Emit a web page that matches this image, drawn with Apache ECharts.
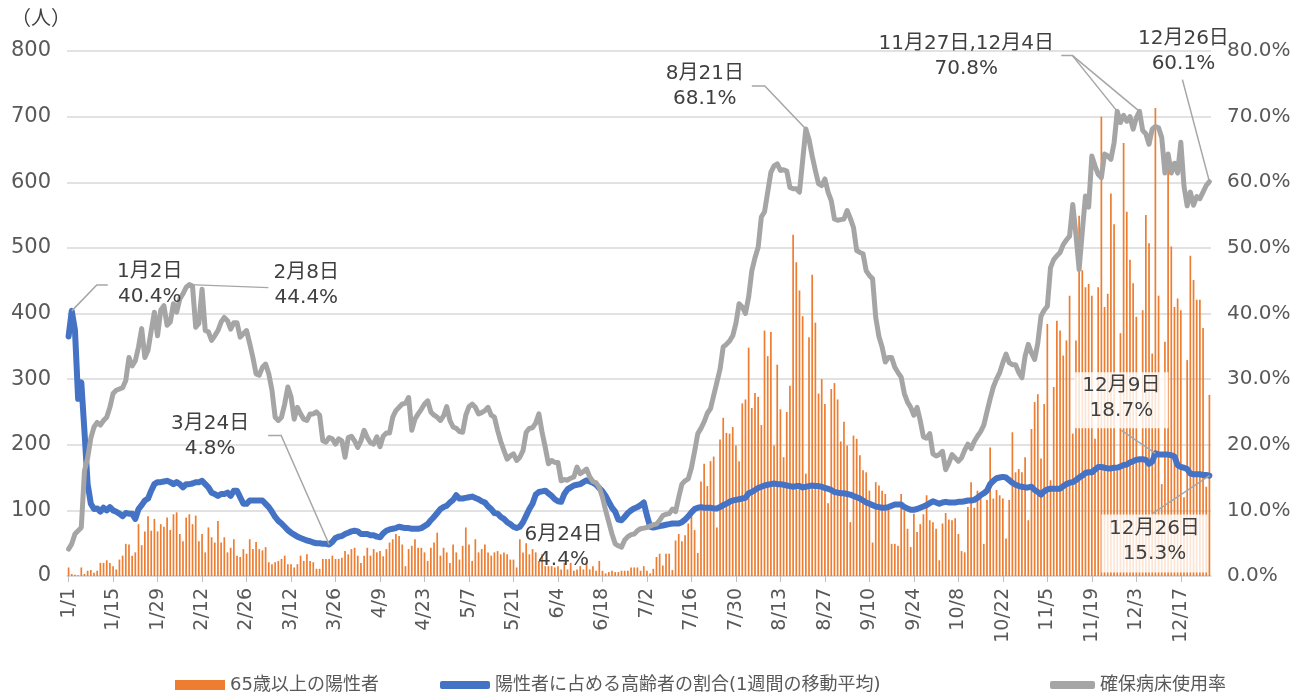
<!DOCTYPE html>
<html>
<head>
<meta charset="utf-8">
<title>65歳以上の陽性者と確保病床使用率</title>
<script src="https://cdn.jsdelivr.net/npm/echarts@6/dist/echarts.min.js"></script>
<style>
	html, body { margin: 0; padding: 0; background: #ffffff; }
	#main { width: 1308px; height: 695px; }
</style>
</head>
<body>
<div id="main"></div>
<script>
// 日付 (2022/1/1 〜 12/26)
var dates = [];
for (var dt = new Date(2022, 0, 1); dates.length < 360; dt.setDate(dt.getDate() + 1)) {
	dates.push((dt.getMonth() + 1) + '/' + dt.getDate());
}

var legendNames = ['65歳以上の陽性者', '陽性者に占める高齢者の割合(1週間の移動平均)', '確保病床使用率'];

// 65歳以上の陽性者 (人)
var aged65Cases = [
	13, 3, 2, 1, 13, 3, 8, 9, 5, 8,
	20, 20, 24, 20, 15, 10, 25, 31, 49, 48,
	31, 36, 79, 47, 68, 91, 69, 87, 68, 79,
	75, 89, 70, 94, 97, 64, 53, 89, 94, 79,
	92, 53, 64, 36, 74, 59, 51, 84, 51, 59,
	36, 43, 56, 31, 29, 41, 34, 56, 41, 52,
	41, 39, 44, 21, 18, 21, 23, 26, 31, 18,
	18, 13, 18, 31, 23, 33, 23, 21, 11, 11,
	26, 26, 26, 31, 26, 26, 28, 38, 33, 41,
	43, 31, 20, 31, 43, 31, 41, 36, 38, 30,
	41, 51, 56, 64, 61, 48, 15, 41, 46, 56,
	43, 43, 36, 23, 43, 51, 66, 31, 43, 36,
	20, 48, 36, 25, 46, 74, 48, 23, 56, 36,
	41, 48, 36, 31, 36, 38, 33, 36, 33, 25,
	25, 13, 56, 36, 50, 33, 41, 36, 23, 33,
	15, 15, 15, 13, 15, 10, 20, 10, 20, 8,
	10, 15, 10, 23, 10, 15, 8, 23, 8, 4,
	6, 8, 6, 6, 8, 8, 8, 13, 13, 13,
	8, 15, 8, 4, 11, 29, 34, 16, 34, 34,
	9, 54, 64, 53, 62, 80, 95, 70, 35, 144,
	171, 137, 175, 182, 74, 208, 241, 218, 217, 227,
	199, 175, 263, 269, 348, 256, 279, 273, 230, 374,
	335, 372, 199, 322, 254, 181, 250, 290, 520, 478,
	435, 396, 156, 364, 459, 386, 278, 300, 262, 111,
	285, 294, 269, 205, 235, 199, 82, 214, 209, 184,
	161, 158, 130, 51, 143, 138, 130, 125, 102, 49,
	49, 46, 125, 100, 72, 44, 95, 67, 79, 94,
	123, 85, 82, 72, 24, 80, 96, 86, 85, 88,
	64, 38, 36, 105, 143, 104, 130, 126, 49, 116,
	196, 118, 131, 123, 118, 57, 116, 219, 158, 163,
	158, 181, 85, 224, 265, 277, 179, 262, 384, 146,
	288, 389, 374, 336, 359, 427, 217, 359, 549, 466,
	440, 445, 427, 209, 440, 700, 410, 430, 583, 536,
	160, 370, 660, 555, 482, 446, 395, 177, 405, 550,
	507, 339, 713, 427, 140, 357, 621, 502, 410, 423,
	405, 120, 329, 488, 451, 421, 421, 378, 136, 276
];

// 陽性者に占める高齢者の割合 (%)
var elderlyRatio = [
	36.5, 40.4, 37.5, 27.0, 29.5, 22.0, 14.0, 11.0, 10.2, 10.3,
	9.8, 10.4, 10.0, 10.5, 10.0, 9.8, 9.5, 9.1, 9.6, 9.5,
	9.5, 8.7, 10.2, 10.8, 11.5, 11.8, 13.0, 14.0, 14.3, 14.3,
	14.4, 14.5, 14.3, 14.0, 14.3, 14.0, 13.5, 14.0, 14.0, 14.1,
	14.3, 14.3, 14.5, 14.0, 13.5, 12.7, 12.5, 12.2, 12.5, 12.5,
	12.7, 12.2, 13.0, 13.0, 12.0, 11.0, 11.0, 11.5, 11.5, 11.5,
	11.5, 11.5, 11.0, 10.5, 9.8, 9.0, 8.4, 8.0, 7.5, 7.0,
	6.6, 6.3, 6.0, 5.8, 5.6, 5.4, 5.3, 5.1, 5.0, 5.0,
	4.9, 4.9, 4.8, 5.2, 5.8, 6.0, 6.1, 6.4, 6.6, 6.8,
	6.9, 6.8, 6.4, 6.4, 6.4, 6.2, 6.2, 6.0, 5.9, 6.5,
	6.9, 7.1, 7.2, 7.3, 7.5, 7.4, 7.3, 7.3, 7.2, 7.2,
	7.2, 7.3, 7.6, 7.9, 8.5, 9.0, 9.6, 10.2, 10.5, 10.7,
	11.2, 11.6, 12.3, 11.8, 11.8, 11.9, 12.0, 12.1, 11.9, 11.7,
	11.4, 11.2, 10.6, 10.2, 9.6, 9.5, 9.0, 8.7, 8.2, 7.9,
	7.5, 7.3, 7.5, 8.2, 9.2, 10.2, 11.0, 12.4, 12.8, 12.9,
	13.0, 12.6, 12.2, 11.7, 11.4, 11.3, 12.5, 13.2, 13.5, 13.8,
	13.9, 14.0, 14.3, 14.6, 14.4, 14.2, 13.9, 13.4, 12.9, 12.2,
	11.3, 10.4, 9.8, 8.6, 8.5, 9.0, 9.6, 10.0, 10.3, 10.5,
	10.8, 11.2, 9.2, 7.5, 7.4, 7.5, 7.6, 7.7, 7.8, 7.9,
	8.0, 8.0, 8.0, 8.2, 8.6, 9.1, 9.7, 10.2, 10.4, 10.5,
	10.4, 10.4, 10.4, 10.3, 10.3, 10.5, 10.8, 11.0, 11.3, 11.5,
	11.6, 11.7, 11.8, 11.9, 12.6, 12.8, 13.1, 13.4, 13.6, 13.8,
	13.9, 14.0, 14.1, 14.0, 14.0, 13.9, 13.8, 13.7, 13.6, 13.7,
	13.7, 13.5, 13.6, 13.7, 13.8, 13.7, 13.7, 13.6, 13.4, 13.3,
	13.1, 12.8, 12.7, 12.6, 12.6, 12.5, 12.4, 12.2, 12.0, 11.8,
	11.5, 11.2, 11.0, 10.8, 10.6, 10.5, 10.4, 10.4, 10.5, 10.7,
	10.9, 10.9, 10.9, 10.5, 10.3, 10.1, 10.1, 10.2, 10.4, 10.6,
	10.8, 11.1, 11.4, 11.2, 11.0, 11.2, 11.3, 11.2, 11.2, 11.2,
	11.3, 11.3, 11.4, 11.5, 11.5, 11.6, 11.9, 12.3, 12.6, 13.0,
	14.0, 14.5, 14.9, 15.0, 15.1, 15.0, 14.6, 14.2, 13.9, 13.7,
	13.6, 13.5, 13.5, 13.6, 13.1, 12.8, 12.4, 12.9, 13.2, 13.3,
	13.3, 13.3, 13.3, 13.7, 14.0, 14.2, 14.3, 14.6, 15.0, 15.3,
	15.7, 15.8, 15.8, 16.2, 16.6, 16.6, 16.5, 16.4, 16.4, 16.5,
	16.5, 16.7, 16.9, 17.0, 17.3, 17.5, 17.7, 17.8, 17.8, 17.7,
	17.1, 17.4, 18.7, 18.5, 18.5, 18.5, 18.5, 18.4, 18.2, 16.9,
	16.6, 16.5, 16.3, 15.6, 15.5, 15.5, 15.5, 15.4, 15.4, 15.3
];

// 確保病床使用率 (%)
var bedUsage = [
	4.1, 4.9, 6.4, 6.9, 7.4, 16.0, 18.0, 21.0, 22.7, 23.4,
	23.0, 23.7, 24.2, 25.7, 27.8, 28.3, 28.5, 28.7, 29.8, 33.3,
	32.0, 32.8, 34.9, 37.7, 33.3, 34.4, 37.4, 40.2, 36.6, 40.5,
	41.2, 38.2, 38.7, 41.5, 40.2, 42.2, 43.0, 44.0, 44.4, 44.2,
	37.9, 38.5, 43.7, 37.4, 37.2, 35.9, 36.6, 37.4, 38.7, 39.4,
	38.9, 37.6, 38.6, 38.6, 36.4, 36.9, 37.4, 35.4, 33.3, 30.8,
	30.6, 31.8, 32.3, 30.8, 28.3, 24.2, 23.7, 24.2, 26.2, 28.8,
	27.3, 23.9, 25.7, 24.7, 23.9, 23.7, 24.7, 24.7, 25.0, 24.5,
	20.6, 20.4, 21.1, 20.9, 20.1, 20.9, 20.6, 18.1, 21.1, 21.3,
	20.6, 19.6, 20.6, 22.2, 21.1, 20.3, 20.1, 21.2, 19.7, 21.3,
	21.8, 21.8, 24.2, 25.2, 25.7, 26.2, 26.3, 27.2, 22.2, 23.9,
	24.7, 25.4, 26.2, 26.7, 25.0, 24.5, 24.2, 23.7, 24.4, 25.8,
	23.7, 22.7, 22.5, 22.0, 21.9, 24.5, 25.8, 26.2, 25.7, 24.7,
	24.9, 25.2, 25.7, 24.5, 24.2, 22.2, 20.5, 19.1, 17.8, 18.3,
	18.6, 17.6, 18.1, 19.1, 21.9, 22.5, 22.6, 23.3, 24.7, 21.9,
	19.6, 17.1, 17.6, 17.3, 17.3, 14.5, 14.7, 14.6, 14.9, 15.1,
	16.6, 15.6, 15.9, 16.3, 15.1, 14.4, 14.2, 13.5, 12.0, 10.0,
	8.2, 6.4, 4.9, 4.6, 4.4, 5.5, 6.0, 6.3, 6.4, 6.9,
	7.2, 7.3, 7.4, 7.6, 7.8, 7.9, 8.5, 9.2, 9.4, 9.5,
	10.2, 9.8, 12.0, 14.0, 14.5, 14.8, 16.5, 19.0, 21.7, 22.5,
	23.5, 24.8, 25.5, 27.5, 29.5, 31.5, 34.9, 35.3, 35.8, 36.6,
	38.5, 41.5, 41.0, 40.0, 42.5, 46.5, 48.5, 50.1, 54.7, 55.5,
	58.5, 61.5, 62.5, 62.8, 61.8, 61.9, 61.7, 59.2, 59.0, 59.0,
	58.5, 63.3, 68.1, 66.5, 64.0, 61.8, 59.8, 59.5, 60.5, 58.5,
	57.2, 54.4, 54.2, 54.3, 54.4, 55.7, 54.5, 53.1, 49.6, 49.3,
	49.1, 46.5, 45.8, 45.3, 39.4, 36.5, 34.9, 32.6, 33.3, 33.3,
	31.8, 31.0, 30.3, 27.8, 26.5, 25.7, 24.5, 25.7, 23.7, 21.2,
	21.0, 21.7, 18.6, 18.3, 18.5, 19.0, 16.2, 17.2, 18.5, 18.0,
	17.5, 18.0, 19.2, 20.1, 19.4, 20.5, 21.3, 22.0, 23.0, 25.0,
	27.0, 28.8, 30.0, 31.0, 32.5, 33.8, 32.5, 32.2, 32.2, 31.0,
	30.2, 33.5, 35.3, 34.0, 33.0, 35.5, 39.6, 40.5, 41.1, 47.0,
	48.2, 48.8, 49.3, 50.5, 51.2, 51.8, 56.6, 52.0, 46.7, 52.5,
	57.9, 56.2, 64.0, 62.5, 61.2, 60.7, 64.3, 64.0, 63.5, 66.0,
	70.8, 69.1, 70.2, 69.3, 70.0, 68.1, 69.8, 70.8, 67.9, 67.4,
	65.8, 68.1, 68.5, 68.3, 66.8, 61.4, 64.3, 61.4, 62.9, 61.4,
	66.1, 59.4, 56.4, 58.5, 56.5, 57.8, 57.5, 58.5, 59.5, 60.1
];

// 注釈: 系列番号, 日付の位置, 文字
var notes = [
	{ s: 1, i: 1, text: '1月2日\n40.4%', tx: 78, ty: -27, line: [[0, 0], [25, -26], [36, -26]] },
	{ s: 2, i: 38, text: '2月8日\n44.4%', tx: 117, ty: 1, line: [[0, 0], [79, 3]] },
	{ s: 1, i: 82, text: '3月24日\n4.8%', tx: -119, ty: -108, line: [[-61, -109], [-48, -109], [0, 0]] },
	{ s: 2, i: 174, text: '6月24日\n4.4%', tx: -58, ty: 0 },
	{ s: 2, i: 232, text: '8月21日\n68.1%', tx: -101, ty: -43, line: [[-54, -43], [-41, -43], [0, 0]] },
	{ s: 2, i: 330, i2: 337, text: '11月27日,12月4日\n70.8%', tx: -151, ty: -55, line: [[-56, -56], [-45, -56], [0, 0]] },
	{ s: 2, i: 359, text: '12月26日\n60.1%', tx: -26, ty: -130, line: [[-27, -102], [0, 0]] },
	{ s: 1, i: 342, text: '12月9日\n18.7%', tx: -34, ty: -55, box: [-81, -81, 94, 56], line: [[-34, -23], [0, 0]] },
	{ s: 1, i: 359, text: '12月26日\n15.3%', tx: -55, ty: 66, box: [-108, 39, 106, 58], line: [[-57, 38], [0, 0]] }
];

var FONT = '"DejaVu Sans", "Noto Sans CJK JP", sans-serif';

function drawChart() {
	var myChart = echarts.init(document.getElementById('main'));

	var legendText = { fontSize: 18, color: '#595959', fontFamily: FONT };
	var option = {
		animation: false,
		backgroundColor: '#ffffff',
		textStyle: { fontFamily: FONT },
		title: {
			text: '（人）',
			left: 6,
			top: 5,
			textStyle: { fontSize: 20, fontWeight: 'normal', color: '#404040', fontFamily: FONT }
		},
		grid: { left: 67, right: 97, top: 51, bottom: 119 },
		legend: [
			{ data: [{ name: legendNames[0], icon: 'rect' }], left: 175, top: 676, padding: 0,
				itemWidth: 50, itemHeight: 10, textStyle: legendText },
			{ data: [{ name: legendNames[1], icon: 'roundRect' }], left: 440, top: 676, padding: 0,
				itemWidth: 50, itemHeight: 8, textStyle: legendText },
			{ data: [{ name: legendNames[2], icon: 'roundRect' }], left: 1050, top: 676, padding: 0,
				itemWidth: 45, itemHeight: 8, textStyle: legendText }
		],
		xAxis: {
			type: 'category',
			data: dates,
			boundaryGap: true,
			axisLine: { lineStyle: { color: '#d9d9d9', width: 1.5 } },
			axisTick: { show: true, interval: 13, alignWithLabel: true, length: 6, lineStyle: { color: '#bfbfbf' } },
			axisLabel: { interval: 13, rotate: 90, fontSize: 19, color: '#595959', margin: 12, fontFamily: FONT }
		},
		yAxis: [{
			type: 'value',
			min: 0,
			max: 800,
			interval: 100,
			axisLine: { show: false },
			axisTick: { show: false },
			axisLabel: { fontSize: 21, color: '#595959', margin: 16, fontFamily: FONT },
			splitLine: { lineStyle: { color: '#d9d9d9', width: 1.5 } }
		}, {
			type: 'value',
			position: 'right',
			min: 0,
			max: 80,
			interval: 10,
			axisLine: { show: false },
			axisTick: { show: false },
			splitLine: { show: false },
			axisLabel: {
				fontSize: 20, color: '#595959', margin: 16, fontFamily: FONT,
				formatter: function(v) { return v.toFixed(1) + '%'; }
			}
		}],
		series: [{
			name: legendNames[0],
			type: 'bar',
			data: aged65Cases,
			barWidth: 1.7,
			itemStyle: { color: '#ed7d31' }
		}, {
			name: legendNames[1],
			type: 'line',
			yAxisIndex: 1,
			data: elderlyRatio,
			showSymbol: false,
			color: '#4472c4',
			lineStyle: { width: 6, color: '#4472c4', join: 'round', cap: 'round' }
		}, {
			name: legendNames[2],
			type: 'line',
			yAxisIndex: 1,
			data: bedUsage,
			showSymbol: false,
			color: '#a5a5a5',
			lineStyle: { width: 5, color: '#a5a5a5', join: 'round', cap: 'round' }
		}]
	};
	myChart.setOption(option);

	// 注釈の位置はデータ点から求める
	var graphics = [];
	notes.forEach(function(n) {
		var series = n.s === 1 ? elderlyRatio : bedUsage;
		var p = myChart.convertToPixel({ seriesIndex: n.s }, [dates[n.i], series[n.i]]);
		if (n.box) {
			graphics.push({
				type: 'rect', z: 100,
				shape: { x: p[0] + n.box[0], y: p[1] + n.box[1], width: n.box[2], height: n.box[3] },
				style: { fill: 'rgba(255,255,255,0.8)' }
			});
		}
		if (n.line) {
			graphics.push({
				type: 'polyline', z: 101,
				shape: { points: n.line.map(function(o) { return [p[0] + o[0], p[1] + o[1]]; }) },
				style: { stroke: '#a6a6a6', lineWidth: 1.5, fill: null }
			});
		}
		if (n.i2) {
			var p2 = myChart.convertToPixel({ seriesIndex: n.s }, [dates[n.i2], series[n.i2]]);
			var start = n.line[1];
			graphics.push({
				type: 'polyline', z: 101,
				shape: { points: [[p[0] + start[0], p[1] + start[1]], [p2[0], p2[1]]] },
				style: { stroke: '#a6a6a6', lineWidth: 1.5, fill: null }
			});
		}
		graphics.push({
			type: 'text', z: 102,
			style: {
				text: n.text,
				x: p[0] + n.tx,
				y: p[1] + n.ty,
				fill: '#404040',
				fontSize: 20,
				fontFamily: FONT,
				lineHeight: 25,
				align: 'center',
				verticalAlign: 'middle'
			}
		});
	});
	myChart.setOption({ graphic: graphics });
}

drawChart();
</script>
</body>
</html>
